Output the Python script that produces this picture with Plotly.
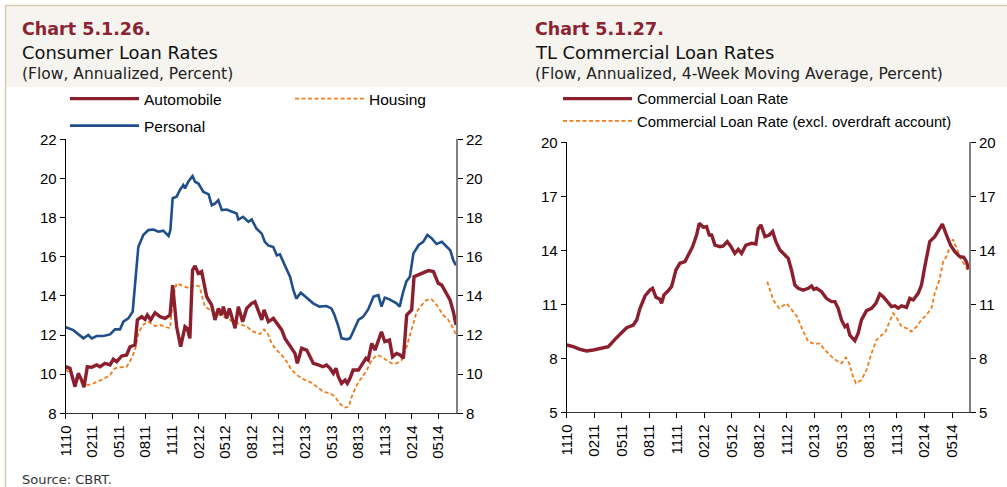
import plotly.graph_objects as go

# ---------------- data (x = months since Nov 2010) ----------------
tick_months = [0, 3, 6, 9, 12, 15, 18, 21, 24, 27, 30, 33, 36, 39, 42]
tick_labels = ["1110", "0211", "0511", "0811", "1111", "0212", "0512", "0812",
               "1112", "0213", "0513", "0813", "1113", "0214", "0514"]

personal_m = [0, 0.86, 2.0, 2.55, 2.93, 3.49, 4.25, 5.0, 5.56, 6.12, 6.5, 7.06, 7.55, 7.81, 8.19,
              8.75, 9.32, 9.88, 10.45, 11.0, 11.6, 11.8, 12.06, 12.5, 12.88, 13.26, 13.45, 13.82,
              14.3, 14.58, 14.96, 15.52, 16.1, 16.47, 16.85, 17.2, 17.6, 18.15, 18.7, 19.27, 19.46,
              20.0, 20.6, 20.97, 21.5, 22.1, 22.45, 22.83, 23.4, 23.8, 24.15, 24.74, 25.3, 25.66,
              26.0, 26.5, 27.2, 27.9, 28.6, 29.4, 29.95, 30.3, 30.75, 31.1, 31.7, 32.05, 32.4, 33.0,
              33.55, 34.1, 34.7, 35.25, 35.6, 35.97, 36.5, 37.3, 37.65, 38.0, 38.4, 38.8, 39.2, 39.8,
              40.3, 40.77, 41.27, 41.8, 42.4, 42.96, 43.35, 43.7, 44.0]
personal_v = [12.4, 12.25, 11.83, 12.0, 11.83, 11.95, 11.95, 12.03, 12.29, 12.29, 12.68, 12.85, 13.19,
              14.5, 16.51, 17.11, 17.36, 17.39, 17.28, 17.33, 17.06, 17.36, 18.99, 19.07, 19.41, 19.66,
              19.49, 19.83, 20.12, 19.83, 19.74, 19.31, 19.2, 18.63, 18.72, 18.89, 18.38, 18.41, 18.33,
              18.21, 17.9, 18.04, 17.78, 17.9, 17.44, 17.18, 16.76, 16.58, 16.5, 16.07, 16.12, 15.56,
              14.97, 14.3, 13.86, 14.16, 13.87, 13.62, 13.45, 13.48, 13.36, 13.02, 12.43, 11.83, 11.78,
              11.83, 12.17, 12.77, 12.94, 13.31, 13.96, 14.04, 13.45, 13.91, 13.82, 13.62, 13.45, 14.13,
              14.73, 14.98, 16.17, 16.6, 16.76, 17.11, 16.94, 16.65, 16.76, 16.5, 16.33, 15.82, 15.56]

auto_m = [0, 0.48, 1.05, 1.42, 1.8, 2.06, 2.44, 2.93, 3.49, 3.87,
          4.43, 5.0, 5.37, 5.75, 6.31, 6.87, 7.25, 7.81, 8.08, 8.56,
          8.94, 9.2, 9.58, 10.07, 10.63, 11.2, 11.76, 12.06, 12.5, 12.96,
          13.45, 13.7, 14.0, 14.3, 14.58, 14.95, 15.33, 15.6, 15.89, 16.46,
          16.83, 17.21, 17.58, 17.77, 18.15, 18.45, 18.82, 19.1, 19.46, 19.95,
          20.4, 20.97, 21.34, 21.72, 22.1, 22.36, 22.85, 23.41, 23.97, 24.35,
          24.72, 25.29, 25.85, 26.11, 26.6, 27.17, 27.54, 27.92, 28.48, 29.0,
          29.4, 29.8, 30.17, 30.47, 30.73, 31.1, 31.5, 31.75, 32.05, 32.4,
          33.0, 33.37, 33.85, 34.1, 34.5, 34.87, 35.25, 35.6, 35.97, 36.5,
          36.85, 37.3, 37.7, 38.07, 38.44, 39.0, 39.27, 39.76, 40.32, 40.89,
          41.45, 42.0, 42.39, 42.95, 43.33, 43.7, 44.0]
auto_v = [10.38, 10.3, 9.36, 10.04, 9.7, 9.33, 10.38, 10.35, 10.47, 10.38,
          10.55, 10.47, 10.76, 10.64, 10.93, 10.98, 11.4, 11.49, 12.77, 12.94,
          12.8, 13.02, 12.77, 13.14, 12.94, 12.85, 13.02, 14.55, 12.43, 11.4,
          12.43, 12.34, 11.83, 15.32, 15.53, 15.15, 15.24, 14.55, 13.96, 13.53,
          12.77, 13.36, 13.02, 13.45, 12.85, 13.36, 12.68, 12.34, 13.45, 12.68,
          13.36, 13.62, 13.7, 13.19, 12.77, 13.28, 12.68, 12.85, 12.51, 12.26,
          11.83, 11.4, 11.06, 10.55, 11.32, 11.23, 10.89, 10.55, 10.47, 10.38,
          10.47, 10.3, 10.04, 10.3, 9.87, 9.53, 9.7, 9.53, 9.79, 10.21,
          10.21, 10.47, 10.81, 10.72, 11.57, 11.23, 11.74, 12.17, 11.66, 11.74,
          10.89, 11.06, 10.98, 10.81, 13.02, 13.28, 14.98, 15.07, 15.18, 15.29,
          15.24, 14.64, 14.55, 14.04, 13.79, 13.19, 12.51]

housing_m = [0, 0.86, 1.61, 2.55, 3.12, 3.68, 4.43, 5.0, 5.56, 6.12,
             6.87, 7.33, 7.81, 8.19, 8.68, 9.32, 10.07, 10.63, 11.2, 11.76,
             12.13, 12.5, 13.25, 14.0, 14.58, 15.1, 15.33, 15.7, 16.27, 16.83,
             17.4, 18.15, 18.9, 19.65, 20.4, 21.15, 21.9, 22.36, 22.85, 23.22,
             23.78, 24.35, 24.91, 25.48, 26.23, 26.98, 27.73, 28.3, 29.05, 29.8,
             30.35, 30.93, 31.5, 31.9, 32.25, 32.8, 33.37, 33.95, 34.5, 35.1,
             35.6, 36.2, 36.75, 37.3, 37.87, 38.44, 39.0, 39.57, 40.13, 40.7,
             41.26, 41.82, 42.57, 43.14, 43.7, 44.0]
housing_v = [10.25, 9.87, 9.62, 9.44, 9.53, 9.65, 9.79, 9.96, 10.3, 10.35,
             10.38, 10.72, 11.23, 12.08, 12.51, 12.68, 12.46, 12.51, 12.43, 12.34,
             13.96, 14.64, 14.5, 14.38, 14.55, 14.47, 14.04, 13.45, 13.28, 13.11,
             13.02, 12.85, 12.68, 12.56, 12.43, 12.17, 12.05, 12.29, 12.0, 11.57,
             11.23, 10.98, 10.64, 10.21, 9.9, 9.7, 9.56, 9.36, 9.1, 9.02,
             8.85, 8.47, 8.29, 8.34, 8.85, 9.44, 9.79, 10.21, 10.72, 10.98,
             10.89, 10.72, 10.55, 10.55, 10.72, 11.4, 12.34, 13.19, 13.53, 13.79,
             13.82, 13.53, 13.02, 12.77, 12.34, 12.0]

comm_m = [0, 0.72, 1.45, 2.17, 2.9, 3.63, 4.54, 5.26, 5.99, 6.53,
          7.26, 7.63, 7.99, 8.53, 9.07, 9.36, 9.73, 10.16, 10.34, 10.6,
          11.07, 11.43, 11.91, 12.34, 12.89, 13.25, 13.72, 14.16, 14.45, 14.89,
          15.25, 15.54, 15.8, 16.16, 16.7, 17.07, 17.5, 17.86, 18.33, 18.7,
          19.06, 19.53, 20.15, 20.62, 20.88, 21.17, 21.61, 22.09, 22.45, 22.8,
          23.24, 23.78, 24.15, 24.5, 24.87, 25.23, 25.78, 26.33, 26.69, 26.94,
          27.23, 27.78, 28.3, 28.86, 29.23, 29.59, 29.95, 30.32, 30.57, 30.86,
          31.41, 31.77, 32.13, 32.68, 33.23, 33.7, 34.13, 34.5, 35.04, 35.4,
          35.77, 36.13, 36.5, 37.04, 37.4, 37.77, 38.31, 38.67, 39.03, 39.57,
          40.12, 40.48, 40.95, 41.39, 41.83, 42.3, 42.85, 43.28, 43.57, 43.83]
comm_v = [8.74, 8.65, 8.5, 8.41, 8.46, 8.55, 8.65, 9.05, 9.39, 9.7,
          9.85, 10.13, 10.78, 11.46, 11.79, 11.89, 11.39, 11.28, 11.05, 11.52,
          11.76, 11.98, 12.91, 13.28, 13.37, 13.74, 14.2, 14.85, 15.5, 15.28,
          15.31, 14.85, 14.85, 14.29, 14.2, 14.24, 14.48, 14.24, 13.83, 14.05,
          13.83, 14.29, 14.39, 14.35, 15.22, 15.41, 14.76, 14.85, 15.04, 14.48,
          14.02, 13.74, 13.55, 12.91, 12.07, 11.89, 11.79, 11.89, 12.02, 11.83,
          11.89, 11.7, 11.33, 11.15, 11.15, 10.78, 10.13, 9.76, 9.85, 9.29,
          8.98, 9.39, 10.13, 10.65, 10.78, 11.05, 11.57, 11.42, 11.05, 10.87,
          10.91, 10.78, 10.91, 10.83, 11.33, 11.24, 11.61, 12.07, 13.09, 14.48,
          14.76, 15.04, 15.46, 14.85, 14.29, 13.92, 13.65, 13.61, 13.37, 12.94]

excl_m = [21.86, 22.51, 23.16, 23.96, 24.5, 25.12, 25.71, 26.33, 27.05, 27.6,
          28.14, 28.86, 29.59, 29.95, 30.43, 30.79, 31.16, 31.52, 32.13, 32.68,
          33.23, 33.77, 34.32, 34.68, 35.04, 35.58, 35.95, 36.49, 37.04, 37.58,
          38.13, 38.67, 39.21, 39.76, 40.12, 40.67, 41.03, 41.39, 41.83, 42.12,
          42.49, 43.03, 43.39, 43.65]
excl_v = [12.26, 11.24, 10.78, 11.05, 10.72, 10.31, 9.57, 8.92, 8.79, 8.83,
          8.46, 8.09, 7.81, 7.72, 8.05, 7.72, 7.07, 6.61, 6.79, 7.35,
          8.28, 9.02, 9.29, 9.39, 9.85, 10.5, 10.28, 9.76, 9.67, 9.48,
          9.76, 10.13, 10.41, 10.78, 11.61, 12.44, 13.37, 13.65, 14.29, 14.61,
          14.11, 13.46, 13.18, 12.91]

# ---------------- styling ----------------
W, H = 1007, 487
RED = "#8B1F2E"
BLUE = "#1F4E8A"
ORANGE = "#F07D1A"
TITLE_RED = "#8B2332"
BAND = "#F6F4EF"
BORDER = "#D9CBB5"
ARIAL = "Liberation Sans, Arial, sans-serif"
TICK_FONT = dict(family=ARIAL, size=15, color="#000000")
HEAD_FONT = "DejaVu Sans, sans-serif"


def px(x):
    return x / W


def py(y):
    return 1 - y / H


fig = go.Figure()

# left chart
fig.add_trace(go.Scatter(x=personal_m, y=personal_v, name="Personal", mode="lines",
                         line=dict(color=BLUE, width=2.6), legend="legend3",
                         xaxis="x", yaxis="y"))
fig.add_trace(go.Scatter(x=housing_m, y=housing_v, name="Housing", mode="lines",
                         line=dict(color=ORANGE, width=1.8, dash="4px,2.5px"), legend="legend",
                         xaxis="x", yaxis="y"))
fig.add_trace(go.Scatter(x=auto_m, y=auto_v, name="Automobile", mode="lines",
                         line=dict(color=RED, width=3.4), legend="legend",
                         xaxis="x", yaxis="y"))
# invisible carrier so the right-hand value axis of the left chart is drawn
fig.add_trace(go.Scatter(x=auto_m, y=auto_v, mode="lines", line=dict(width=0), opacity=0,
                         showlegend=False, hoverinfo="skip", xaxis="x", yaxis="y2"))
# right chart
fig.add_trace(go.Scatter(x=excl_m, y=excl_v, name="Commercial Loan Rate (excl. overdraft account)",
                         mode="lines", line=dict(color=ORANGE, width=1.8, dash="4px,2.5px"),
                         legend="legend2", xaxis="x2", yaxis="y3"))
fig.add_trace(go.Scatter(x=comm_m, y=comm_v, name="Commercial Loan Rate", mode="lines",
                         line=dict(color=RED, width=3.4), legend="legend2",
                         xaxis="x2", yaxis="y3"))
fig.add_trace(go.Scatter(x=comm_m, y=comm_v, mode="lines", line=dict(width=0), opacity=0,
                         showlegend=False, hoverinfo="skip", xaxis="x2", yaxis="y4"))

L_DOM_X = [px(65.7), px(456)]
L_DOM_Y = [py(413.3), py(139.3)]
R_DOM_X = [px(566.7), px(969)]
R_DOM_Y = [py(412.3), py(142.3)]

xcommon = dict(tickmode="array", tickvals=tick_months, ticktext=tick_labels, tickangle=-90,
               ticks="outside", ticklen=5, tickcolor="#000", showline=True, linecolor="#333",
               linewidth=1.2, showgrid=False, zeroline=False, tickfont=TICK_FONT,
               automargin=False)
ycommon = dict(ticks="outside", ticklen=5, tickcolor="#000", showline=True,
               showgrid=False, zeroline=False, tickfont=TICK_FONT, tickmode="linear",
               automargin=False)

fig.update_layout(
    template="none",
    width=W, height=H,
    margin=dict(l=0, r=0, t=0, b=0, pad=0, autoexpand=False),
    paper_bgcolor="white", plot_bgcolor="white",
    hovermode=False,
    xaxis=dict(domain=L_DOM_X, range=[0, 44.0], anchor="y", **xcommon),
    yaxis=dict(domain=L_DOM_Y, range=[8, 22], tick0=8, dtick=2, anchor="x",
               linecolor="#000", linewidth=1.2, **ycommon),
    yaxis2=dict(range=[8, 22], tick0=8, dtick=2, anchor="x",
                overlaying="y", side="right", linecolor="#808080", linewidth=2, **ycommon),
    xaxis2=dict(domain=R_DOM_X, range=[0, 43.85], anchor="y3", **xcommon),
    yaxis3=dict(domain=R_DOM_Y, range=[5, 20], tick0=5, dtick=3, anchor="x2",
                linecolor="#000", linewidth=1.2, **ycommon),
    yaxis4=dict(range=[5, 20], tick0=5, dtick=3, anchor="x2",
                overlaying="y3", side="right", linecolor="#808080", linewidth=2, **ycommon),
    legend=dict(orientation="h", x=px(65), y=py(99), xanchor="left", yanchor="middle",
                traceorder="reversed", itemwidth=69, entrywidth=141, entrywidthmode="pixels",
                font=dict(family=ARIAL, size=15.5, color="#000"),
                bgcolor="rgba(0,0,0,0)"),
    legend3=dict(orientation="h", x=px(65), y=py(126), xanchor="left", yanchor="middle",
                 itemwidth=69,
                 font=dict(family=ARIAL, size=15.5, color="#000"),
                 bgcolor="rgba(0,0,0,0)"),
    legend2=dict(orientation="v", x=px(558), y=py(110), xanchor="left", yanchor="middle",
                 traceorder="reversed", itemwidth=69, tracegroupgap=0,
                 font=dict(family=ARIAL, size=14.8, color="#000"),
                 bgcolor="rgba(0,0,0,0)"),
    showlegend=True,
)

# header band and frame
fig.add_shape(type="rect", xref="paper", yref="paper", x0=px(6), x1=1, y0=py(87), y1=py(6),
              fillcolor=BAND, line=dict(width=0), layer="below")
fig.add_shape(type="line", xref="paper", yref="paper", x0=px(5), x1=1, y0=py(5.5), y1=py(5.5),
              line=dict(color=BORDER, width=1.5))
fig.add_shape(type="line", xref="paper", yref="paper", x0=px(5.5), x1=px(5.5), y0=0, y1=py(5),
              line=dict(color=BORDER, width=1.5))

# titles
for x0, t1, t2, t3 in [(20, "Chart 5.1.26.", "Consumer Loan Rates", "(Flow, Annualized, Percent)"),
                       (533, "Chart 5.1.27.", "TL Commercial Loan Rates",
                        "(Flow, Annualized, 4-Week Moving Average, Percent)")]:
    fig.add_annotation(xref="paper", yref="paper", x=px(x0), y=py(29), xanchor="left",
                       yanchor="middle", showarrow=False, text="<b>" + t1 + "</b>",
                       font=dict(family=HEAD_FONT, size=17.5, color=TITLE_RED))
    fig.add_annotation(xref="paper", yref="paper", x=px(x0), y=py(52), xanchor="left",
                       yanchor="middle", showarrow=False, text=t2,
                       font=dict(family=HEAD_FONT, size=17.9, color="#111"))
    fig.add_annotation(xref="paper", yref="paper", x=px(x0), y=py(74), xanchor="left",
                       yanchor="middle", showarrow=False, text=t3,
                       font=dict(family=HEAD_FONT, size=15.5, color="#222"))

fig.add_annotation(xref="paper", yref="paper", x=px(20), y=py(479), xanchor="left",
                   yanchor="middle", showarrow=False, text="Source: CBRT.",
                   font=dict(family=HEAD_FONT, size=13, color="#333"))

fig.write_html("out.html", config={"displayModeBar": False},
               post_script="document.body.style.margin='0';document.body.style.padding='0';")
